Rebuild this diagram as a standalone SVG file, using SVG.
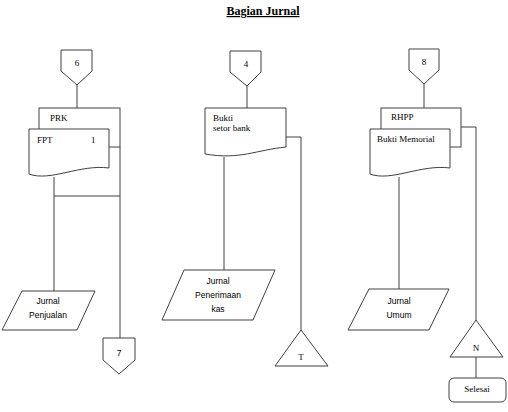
<svg xmlns="http://www.w3.org/2000/svg" width="508" height="412" viewBox="0 0 508 412">
<style>
.s{fill:#fff;stroke:#404040;stroke-width:1}
.l{fill:none;stroke:#404040;stroke-width:1}
.t{font-family:"Liberation Serif","Times New Roman",serif;font-size:9px;fill:#000}
.c{font-family:"Liberation Sans",Arial,sans-serif;font-size:8.5px;fill:#000;text-anchor:middle}
.m{text-anchor:middle}
.h{font-family:"Liberation Serif","Times New Roman",serif;font-weight:bold;font-size:12px;fill:#000;text-anchor:middle;text-decoration:underline}
</style>
<rect width="508" height="412" fill="#fff"/>
<text class="h" x="263" y="15">Bagian Jurnal</text>
<g id="connectors">
<path class="l" d="M77,85 V108"/>
<path class="l" d="M54,177 V291"/>
<path class="l" d="M54,196 H120"/>
<path class="l" d="M120,147 V338"/>
<path class="l" d="M247,86 V108"/>
<path class="l" d="M224,157 V270"/>
<path class="l" d="M286,137 H301 V330"/>
<path class="l" d="M424,84 V108"/>
<path class="l" d="M399,177 V289"/>
<path class="l" d="M461,127 H476 V320"/>
<path class="l" d="M476,357 V378"/>
</g>
<g id="off6"><path class="s" d="M61,50 H92 V71 L77,85 L61,71 Z"/><text class="t m" x="77" y="66">6</text></g>
<g id="off4"><path class="s" d="M230,51 H261 V72 L247,86 L230,72 Z"/><text class="t m" x="246" y="67">4</text></g>
<g id="off8"><path class="s" d="M409,49 H439 V70 L424,84 L409,70 Z"/><text class="t m" x="424" y="65">8</text></g>
<g id="prk"><rect class="s" x="39" y="108" width="81" height="39"/><text class="t" x="50" y="121">PRK</text></g>
<g id="fpt"><path class="s" d="M29,129 H109 V168 C80,164 50,182 29,174 Z"/><text class="t" x="37" y="143">FPT</text><text class="t" x="91" y="143">1</text></g>
<g id="bukti-setor"><path class="s" d="M205,108 H286 V147 C256,150 240,160 205,154 Z"/><text class="t" x="213" y="121">Bukti</text><text class="t" x="213" y="131">setor bank</text></g>
<g id="rhpp"><rect class="s" x="381" y="108" width="80" height="39"/><text class="t" x="391" y="120">RHPP</text></g>
<g id="bukti-memorial"><path class="s" d="M370,129 H450 V168 C421,164 391,182 370,174 Z"/><text class="t" x="377" y="142">Bukti Memorial</text></g>
<g id="jurnal-penjualan"><path class="s" d="M22,291 H95 L77,330 H2 Z"/><text class="c" x="48" y="304">Jurnal</text><text class="c" x="48" y="318">Penjualan</text></g>
<g id="jurnal-penerimaan"><path class="s" d="M184,270 H275 L253,320 H162 Z"/><text class="c" x="218" y="284">Jurnal</text><text class="c" x="218" y="298">Penerimaan</text><text class="c" x="218" y="312">kas</text></g>
<g id="jurnal-umum"><path class="s" d="M369,289 H449 L429,330 H348 Z"/><text class="c" x="399" y="304">Jurnal</text><text class="c" x="399" y="318">Umum</text></g>
<g id="off7"><path class="s" d="M103,338 H135 V360 L119,374 L103,360 Z"/><text class="c" x="119" y="356">7</text></g>
<g id="tri-t"><path class="s" d="M301,330 L328,366 H275 Z"/><text class="t m" x="301" y="360">T</text></g>
<g id="tri-n"><path class="s" d="M476,320 L503,357 H450 Z"/><text class="t m" x="476" y="351">N</text></g>
<g id="selesai"><rect class="s" x="449" y="378" width="57" height="24" rx="5"/><text class="t m" x="477" y="392">Selesai</text></g>
</svg>
